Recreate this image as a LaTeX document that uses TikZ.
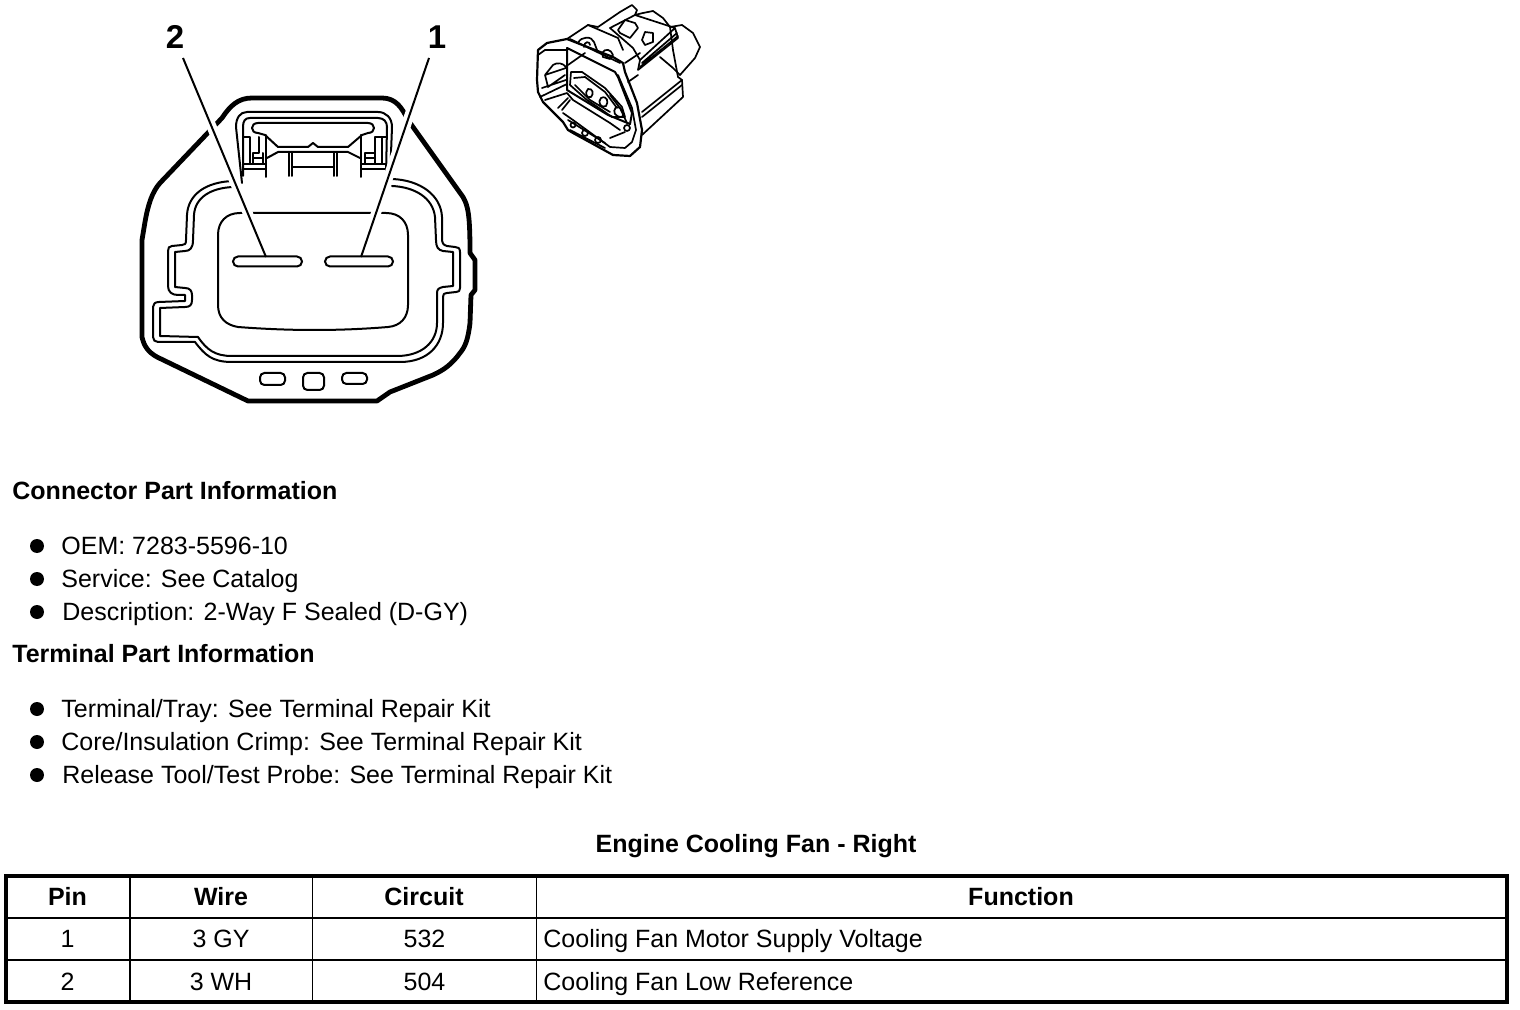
\documentclass[tikz,border=0pt]{standalone}
\usepackage{fontspec}
\setmainfont{Liberation Sans}
\tikzset{
  thickline/.style={line width=2.4pt,line join=round,line cap=round},
  midline/.style={line width=1pt,line join=round,line cap=round},
  leaderhalo/.style={line width=5pt,white},
  leader/.style={line width=1pt},
  bodytext/.style={font=\fontsize{12.5}{14}\selectfont,anchor=base west,inner sep=0pt},
  headtext/.style={font=\fontsize{12.5}{14}\selectfont\bfseries,anchor=base west,inner sep=0pt},
  celltext/.style={font=\fontsize{12.5}{14}\selectfont,anchor=base,inner sep=0pt},
  cellhead/.style={font=\fontsize{12.5}{14}\selectfont\bfseries,anchor=base,inner sep=0pt},
  calloutnum/.style={font=\fontsize{16.5}{18}\selectfont\bfseries,inner sep=0pt},
  bulletdot/.style={circle,fill=black,inner sep=0pt,minimum size=7pt},
  slot/.style={draw,line width=1pt,rounded corners=2.2pt,inner sep=0pt},
  sketch/.style={line width=0.85pt,line join=round,line cap=round}
}
\begin{document}
\begin{tikzpicture}[x=0.5pt,y=-0.5pt]
\useasboundingbox (0,0) rectangle (1520,1010);
% ---- connector outline
\draw[thickline] (145,222) .. controls (148,205) and (152,192) .. (160,183) -- (222,118) .. controls (230,106) and (238,98) .. (252,98) -- (382,98) .. controls (396,98) and (402,108) .. (408,120) -- (463,197) .. controls (468,206) and (470,214) .. (470,253) -- (475,260) -- (475,290) -- (471,295) -- (470,323) .. controls (468,340) and (465,347) .. (460,353) .. controls (452,364) and (444,370) .. (433,375) -- (390,392) -- (377,401) -- (248,401) -- (157,357) .. controls (148,352) and (144,346) .. (142,337) -- (142,240) -- cycle;
% ---- gasket, outer line
\draw[midline] (233,181) .. controls (205,182) and (188,195) .. (187,215) -- (186,240) .. controls (186,244) and (185,245) .. (182,245) -- (172,246) .. controls (169,246) and (168,248) .. (168,251) -- (168,286) .. controls (168,292) and (172,295) .. (178,295) -- (185,295) -- (185,301) -- (159,302) .. controls (155,302) and (153,304) .. (153,307) -- (153,337) .. controls (153,340) and (155,342) .. (158,342) -- (195,342) .. controls (205,355) and (212,362) .. (232,362) -- (400,362) .. controls (428,362) and (443,345) .. (443,323) -- (443,297) .. controls (443,294) and (444,293) .. (447,293) -- (456,292) .. controls (459,292) and (460,291) .. (460,288) -- (460,252) .. controls (460,248) and (458,247) .. (455,247) -- (447,246) .. controls (443,245) and (442,243) .. (442,238) -- (442,217) .. controls (441,195) and (420,180) .. (392,179);
% ---- gasket, inner line
\draw[midline] (233,187) .. controls (210,188) and (195,198) .. (194,215) -- (193,240) .. controls (193,248) and (190,251) .. (185,251) -- (175,252) -- (175,287) -- (185,288) .. controls (190,288) and (192,291) .. (192,295) -- (192,300) .. controls (192,305) and (190,307) .. (185,307) -- (160,308) -- (160,336) -- (198,337) .. controls (207,350) and (215,356) .. (232,356) -- (397,356) .. controls (422,356) and (437,342) .. (437,323) -- (437,293) .. controls (437,289) and (439,288) .. (443,287) -- (453,286) -- (453,252) -- (443,251) .. controls (438,250) and (436,247) .. (436,240) -- (435,217) .. controls (433,198) and (415,187) .. (392,186);
% ---- latch
\draw[midline] (242,183) -- (236,127) .. controls (236,118) and (240,112) .. (247,112) -- (378,112) .. controls (386,112) and (392,118) .. (392,127) -- (390,180);
\draw[midline] (243,176) -- (243,127) .. controls (243,121) and (245,118) .. (250,118) -- (378,118) .. controls (384,118) and (387,122) .. (387,127) -- (386,176);
\draw[midline] (258,123) -- (368,123) .. controls (376,123) and (376,133) .. (368,133) -- (362,135) -- (348,147) -- (318,147) -- (313,143) -- (308,147) -- (278,147) -- (265,135) -- (258,133) .. controls (250,133) and (250,123) .. (258,123) -- cycle;
\draw[midline] (266,135) -- (266,177) (361,135) -- (361,177);
\draw[midline] (267,158) -- (278,152) -- (348,152) -- (360,158);
\draw[midline] (243,137) -- (250,137) -- (250,164) (259,137) -- (259,153) -- (253,153) -- (253,164) (253,158) -- (263,158) (263,153) -- (263,164);
\draw[midline] (243,164) -- (266,164) (243,169) -- (266,169);
\draw[midline] (386,137) -- (375,137) -- (375,153) -- (365,153) -- (365,164) (365,158) -- (375,158) (375,153) -- (375,164) (382,137) -- (382,164);
\draw[midline] (361,164) -- (386,164) (361,169) -- (386,169);
\draw[midline] (289,152) -- (289,176) (292,152) -- (292,176) (334,152) -- (334,176) (337,152) -- (337,176) (292,167) -- (334,167);
% ---- cavity
\draw[midline] (240,213) -- (386,213) .. controls (400,213) and (408,222) .. (408,235) -- (408,305) .. controls (408,318) and (400,326) .. (388,327) .. controls (340,331) and (290,331) .. (238,327) .. controls (226,325) and (218,318) .. (218,305) -- (218,235) .. controls (218,222) and (226,213) .. (240,213) -- cycle;
% ---- callouts
\node[calloutnum] (labeltwo) at (175,37) {2};
\node[calloutnum] (labelone) at (437,37) {1};
\coordinate (leadtwotop) at (183,58);
\coordinate (leadonetop) at (429,58);
\coordinate (leadtwoend) at (266,257);
\coordinate (leadoneend) at (361,257);
\draw[leaderhalo] (leadtwotop) -- (leadtwoend);
\draw[leaderhalo] (leadonetop) -- (leadoneend);
\draw[leader] (leadtwotop) -- (leadtwoend);
\draw[leader] (leadonetop) -- (leadoneend);
% ---- terminals and keys
\node[slot,minimum width=34.5pt,minimum height=5pt,rounded corners=2.5pt] (pinleft) at (267.5,261.5) {};
\node[slot,minimum width=34pt,minimum height=5pt,rounded corners=2.5pt] (pinright) at (359,261.5) {};
\node[slot,minimum width=12.5pt,minimum height=6pt] (keya) at (272.5,379) {};
\node[slot,minimum width=10.5pt,minimum height=8.5pt] (keyb) at (313.5,381.5) {};
\node[slot,minimum width=12.5pt,minimum height=5.5pt] (keyc) at (354.5,378.5) {};
% ---- small view: shell
\draw[sketch,line width=1.1pt] (567,39) -- (547,43) -- (538,50) -- (537,80) -- (538,92) -- (543,102) -- (563,122) -- (568,130) -- (573,133) -- (613,155) -- (630,156) -- (640,147) -- (642,130) -- (637,103) -- (625,72) -- (623,63) -- (613,57) -- cycle;
\draw[sketch] (567,39) -- (588,25) -- (598,27) -- (620,12) -- (632,5) -- (637,10) -- (635,15) -- (643,13) -- (653,11) -- (663,18) -- (670,27) -- (682,25) -- (693,33) -- (700,47) -- (695,58) -- (680,75);
\draw[sketch] (588,25) -- (618,38) -- (623,50) (670,27) -- (673,50) -- (678,77) -- (682,80) -- (683,97) -- (642,135);
\draw[sketch] (682,80) -- (642,112) (682,85) -- (642,117);
% latch block
\draw[sketch] (610,28) -- (635,15) -- (675,28) -- (678,38) -- (638,70) -- (640,60) -- (675,28);
\draw[sketch] (610,28) -- (633,48) -- (640,60) (642,63) -- (677,33) (640,67) -- (678,36);
\draw[sketch] (618,30) -- (625,20) -- (635,23) -- (638,28) -- (630,38) -- (620,33) -- cycle;
\draw[sketch] (642,40) -- (645,32) -- (653,33) -- (653,42) -- (645,45) -- cycle;
\draw[sketch] (625,63) -- (640,53) (660,57) -- (673,68) -- (680,75) (628,82) -- (638,75);
% front frame
\draw[sketch,line width=1pt] (567,48) -- (567,90) -- (608,115) -- (630,124) -- (632,113) -- (618,77) -- (615,72) -- cycle;
\draw[sketch] (618,75) -- (632,108) -- (636,130) -- (632,142) -- (625,148) -- (610,147) -- (573,120) -- (563,113);
\draw[sketch] (570,39) -- (620,63) (568,65) -- (585,53);
% plug
\draw[sketch] (571,72) -- (570,85) -- (587,100) -- (602,110) -- (612,117) -- (625,117) -- (622,107) -- (605,88) -- (582,72) -- cycle;
\draw[sketch] (574,78) -- (585,77) -- (605,92) -- (617,108);
\draw[sketch] (575,85) -- (590,100) -- (610,112);
\draw[sketch] (588,89) .. controls (593,88) and (594,94) .. (591,97) .. controls (587,99) and (584,93) .. (588,89) -- cycle;
\draw[sketch] (601,98) .. controls (607,95) and (609,102) .. (606,106) .. controls (601,109) and (597,102) .. (601,98) -- cycle;
\draw[sketch] (616,107) .. controls (623,107) and (625,115) .. (622,117) .. controls (615,117) and (612,112) .. (616,107) -- cycle;
% lugs
\draw[sketch] (578,43) .. controls (581,36) and (592,36) .. (594,42) -- (597,50) (584,47) .. controls (584,41) and (590,41) .. (590,45);
\draw[sketch] (602,53) .. controls (605,48) and (611,49) .. (613,55) -- (610,59) -- (603,57) -- cycle;
% left of shell
\draw[sketch] (545,75) -- (548,87) -- (565,75) (545,75) -- (553,65) .. controls (557,62) and (563,63) .. (566,67) (545,75) -- (566,68) (542,88) -- (566,80);
\draw[sketch] (540,97) -- (567,84) (538,55) -- (545,50) -- (567,50);
\draw[sketch] (545,100) -- (567,93) -- (573,100) -- (610,123) -- (620,130);
\draw[sketch] (562,110) -- (570,100) (558,108) -- (568,98);
\draw[sketch] (568,120) -- (605,143) (570,130) -- (605,148);
% pin holes
\draw[sketch] (573,125) circle [radius=2.5] (585,133) circle [radius=3] (598,140) circle [radius=3] (627,128) circle [radius=3];
\draw[sketch] (610,95) -- (620,108) -- (627,123) (610,138) -- (625,132);
% ---- connector part information
\node[headtext] (connhead) at (12,499) {Connector Part Information};
\node[bulletdot] (ba) at (37,546) {};
\node[bodytext] (ta) at (61,554) {OEM: 7283-5596-10};
\node[bulletdot] (bb) at (37,579) {};
\node[bodytext] (tb) at (61,587) {Service: See Catalog};
\node[bulletdot] (bc) at (37,612) {};
\node[bodytext] (tc) at (62,620) {Description: 2-Way F Sealed (D-GY)};
\node[headtext] (termhead) at (12,662) {Terminal Part Information};
\node[bulletdot] (bd) at (37,709) {};
\node[bodytext] (td) at (61,717) {Terminal/Tray: See Terminal Repair Kit};
\node[bulletdot] (be) at (37,742) {};
\node[bodytext] (te) at (61,750) {Core/Insulation Crimp: See Terminal Repair Kit};
\node[bulletdot] (bf) at (37,775) {};
\node[bodytext] (tf) at (62,783) {Release Tool/Test Probe: See Terminal Repair Kit};
% ---- table
\node[cellhead] (tabletitle) at (756,852) {Engine Cooling Fan - Right};
\draw[line width=1.7pt] (6,876) rectangle (1507,1002);
\draw[line width=1.2pt] (6,918) -- (1507,918) (6,960) -- (1507,960) (130,876) -- (130,1002);
\draw[line width=0.5pt] (312,876) -- (312,1002) (536,876) -- (536,1002);
\node[cellhead] (hpin) at (67.5,905) {Pin};
\node[cellhead] (hwire) at (221,905) {Wire};
\node[cellhead] (hcircuit) at (424,905) {Circuit};
\node[cellhead] (hfunc) at (1021,905) {Function};
\node[celltext] (pa) at (67.5,947) {1};
\node[celltext] (wa) at (221,947) {3 GY};
\node[celltext] (ca) at (424.5,947) {532};
\node[bodytext] (fa) at (543,947) {Cooling Fan Motor Supply Voltage};
\node[celltext] (pb) at (67.5,990) {2};
\node[celltext] (wb) at (221,990) {3 WH};
\node[celltext] (cb) at (424.5,990) {504};
\node[bodytext] (fb) at (543,990) {Cooling Fan Low Reference};
\end{tikzpicture}
\end{document}
